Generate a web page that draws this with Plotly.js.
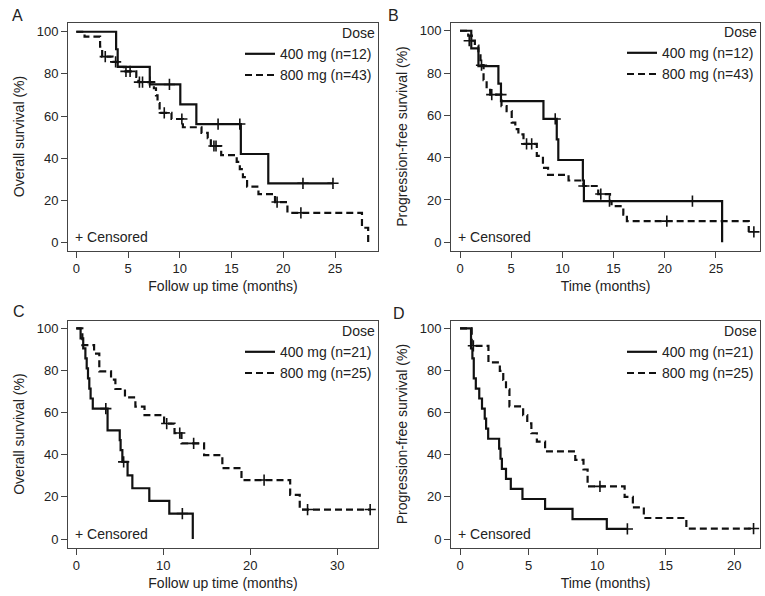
<!DOCTYPE html>
<html>
<head>
<meta charset="utf-8">
<script src="https://cdn.plot.ly/plotly-3.0.1.min.js"></script>
<style>
  body { margin: 0; background: #fff; }
  #chart { width: 765px; height: 596px; }
</style>
</head>
<body>
<div id="chart"></div>
<script>
// Panel A: overall survival, cohort 1 (months, %)
var a400_t = [0, 3.85, 4.0, 7.1, 10.05, 11.6, 15.9, 18.55, 24.8];
var a400_s = [100, 91.7, 83.3, 75.0, 65.5, 56.2, 42.0, 28.1, 28.1];
var a400_ct = [9.0, 13.7, 15.8, 21.9, 24.8];
var a400_cs = [75.0, 56.2, 56.2, 28.1, 28.1];
var a800_t = [0, 0.8, 2.3, 2.5, 3.5, 4.0, 4.6, 5.8, 6.0, 7.5, 7.7, 7.85, 8.05, 9.2, 10.3, 12.1, 12.7, 13.0, 14.0, 15.5, 15.8, 16.1, 16.5, 17.6, 19.2, 20.4, 27.6, 28.2];
var a800_s = [100, 97.7, 92.9, 88.2, 85.7, 83.3, 81.2, 78.6, 76.1, 73.2, 69.8, 66.2, 61.5, 58.6, 54.7, 52.0, 49.5, 45.8, 41.5, 38.3, 34.8, 31.0, 26.5, 23.0, 19.2, 14.1, 7.0, 0];
var a800_ct = [2.8, 3.8, 4.8, 5.2, 6.1, 6.4, 7.1, 8.5, 10.2, 13.3, 13.5, 19.4, 21.7];
var a800_cs = [88.2, 85.7, 81.2, 81.2, 76.1, 76.1, 76.1, 61.5, 58.6, 45.8, 45.8, 19.2, 14.1];

// Panel B: progression-free survival, cohort 1
var b400_t = [0, 1.1, 1.8, 3.75, 4.0, 8.15, 9.45, 9.6, 12.0, 12.1, 25.6];
var b400_s = [100, 91.7, 83.3, 75.0, 66.7, 58.3, 48.6, 38.9, 29.2, 19.4, 0];
var b400_ct = [9.3, 22.7];
var b400_cs = [58.3, 19.4];
var b800_t = [0, 0.8, 1.15, 1.45, 1.8, 2.0, 2.3, 2.6, 2.95, 4.05, 4.55, 5.05, 5.4, 5.7, 6.2, 7.5, 8.1, 8.6, 10.6, 12.05, 13.5, 14.65, 14.8, 15.95, 16.3, 28.2];
var b800_s = [100, 97.7, 95.3, 93.0, 88.4, 83.7, 76.7, 72.1, 69.8, 64.4, 62.0, 56.6, 53.5, 51.0, 46.5, 40.8, 35.2, 31.9, 29.2, 26.6, 22.8, 19.4, 17.1, 13.1, 10.0, 4.9];
var b800_ct = [0.9, 2.1, 3.1, 4.0, 6.5, 7.0, 12.1, 13.75, 14.6, 20.2, 28.7];
var b800_cs = [95.3, 83.7, 69.8, 69.8, 46.5, 46.5, 26.6, 22.8, 19.4, 10.0, 4.9];

// Panel C: overall survival, cohort 2
var c400_t = [0, 0.5, 0.8, 1.05, 1.2, 1.35, 1.5, 1.65, 1.9, 3.6, 5.0, 5.1, 5.3, 5.9, 6.45, 8.4, 10.7, 13.4];
var c400_s = [100, 95.2, 90.5, 85.7, 81.0, 76.2, 71.4, 66.7, 61.9, 51.6, 46.9, 42.2, 36.6, 30.2, 24.1, 18.1, 12.1, 0];
var c400_ct = [3.4, 5.45, 12.2];
var c400_cs = [61.9, 36.6, 12.1];
var c800_t = [0, 0.7, 2.05, 2.65, 4.0, 4.5, 5.6, 6.8, 7.85, 10.1, 11.3, 12.1, 14.7, 16.8, 19.0, 24.6, 25.7, 33.8];
var c800_s = [100, 92.0, 88.0, 79.6, 75.6, 71.2, 67.2, 62.8, 58.8, 54.8, 50.3, 45.4, 39.8, 33.7, 28.0, 21.0, 14.0, 14.0];
var c800_ct = [10.4, 11.9, 13.5, 21.6, 26.6, 33.8];
var c800_cs = [54.8, 50.3, 45.4, 28.0, 14.0, 14.0];

// Panel D: progression-free survival, cohort 2
var d400_t = [0, 0.8, 0.9, 1.0, 1.15, 1.4, 1.6, 1.8, 1.9, 2.05, 2.85, 2.95, 3.05, 3.35, 3.7, 4.55, 6.2, 8.2, 10.7, 12.2];
var d400_s = [100, 90.5, 85.7, 76.2, 71.4, 66.7, 61.9, 57.1, 52.4, 47.6, 42.9, 38.1, 33.3, 28.6, 23.8, 19.0, 14.3, 9.5, 4.8, 4.8];
var d400_ct = [12.2];
var d400_cs = [4.8];
var d800_t = [0, 0.85, 2.07, 2.9, 3.15, 3.35, 3.6, 4.6, 4.9, 5.2, 5.6, 6.2, 8.4, 9.0, 9.3, 12.0, 12.6, 13.4, 16.5, 21.4];
var d800_s = [100, 91.7, 83.8, 79.8, 75.5, 71.0, 63.0, 58.8, 54.9, 50.2, 46.2, 41.6, 37.6, 33.0, 25.0, 20.0, 15.0, 10.0, 5.0, 5.0];
var d800_ct = [0.97, 10.2, 21.4];
var d800_cs = [91.7, 25.0, 5.0];

var FONT = "Liberation Sans, Arial, sans-serif";
var INK = "#222";

// one step curve plus its censor marks
function kmCurve(xa, ya, leg, name, dash, t, s, ct, cs) {
    var line = {
        x: t, y: s, xaxis: xa, yaxis: ya, legend: leg,
        name: name, type: "scatter", mode: "lines",
        line: { shape: "hv", color: "#111", width: 2.2, dash: dash },
        hoverinfo: "skip"
    };
    var marks = {
        x: ct, y: cs, xaxis: xa, yaxis: ya,
        type: "scatter", mode: "markers", showlegend: false,
        marker: { symbol: "cross-thin", size: 8, line: { width: 1.6, color: "#111" } },
        hoverinfo: "skip"
    };
    return [line, marks];
}

var data = [].concat(
    kmCurve("x", "y", "legend", "400 mg (n=12)", "solid", a400_t, a400_s, a400_ct, a400_cs),
    kmCurve("x", "y", "legend", "800 mg (n=43)", "7px,4px", a800_t, a800_s, a800_ct, a800_cs),
    kmCurve("x2", "y2", "legend2", "400 mg (n=12)", "solid", b400_t, b400_s, b400_ct, b400_cs),
    kmCurve("x2", "y2", "legend2", "800 mg (n=43)", "7px,4px", b800_t, b800_s, b800_ct, b800_cs),
    kmCurve("x3", "y3", "legend3", "400 mg (n=21)", "solid", c400_t, c400_s, c400_ct, c400_cs),
    kmCurve("x3", "y3", "legend3", "800 mg (n=25)", "7px,4px", c800_t, c800_s, c800_ct, c800_cs),
    kmCurve("x4", "y4", "legend4", "400 mg (n=21)", "solid", d400_t, d400_s, d400_ct, d400_cs),
    kmCurve("x4", "y4", "legend4", "800 mg (n=25)", "7px,4px", d800_t, d800_s, d800_ct, d800_cs)
);

function xAxis(domain, range, dtick, title, anchor) {
    return {
        domain: domain, range: range, dtick: dtick, tick0: 0, anchor: anchor,
        showline: true, mirror: true, linecolor: "#444", linewidth: 1,
        ticks: "outside", ticklen: 6, tickcolor: "#444",
        showgrid: false, zeroline: false,
        tickfont: { size: 13, color: INK },
        title: { text: title, font: { size: 14, color: INK }, standoff: 6 }
    };
}

function yAxis(domain, range, title, anchor) {
    return {
        domain: domain, range: range, dtick: 20, tick0: 0, anchor: anchor,
        showline: true, mirror: true, linecolor: "#444", linewidth: 1,
        ticks: "outside", ticklen: 6, tickcolor: "#444",
        showgrid: false, zeroline: false,
        tickfont: { size: 13, color: INK },
        title: { text: title, font: { size: 14, color: INK }, standoff: 8 }
    };
}

function doseLegend(x, y) {
    return {
        x: x, y: y, xanchor: "right", yanchor: "top",
        bgcolor: "rgba(0,0,0,0)", borderwidth: 0,
        font: { size: 14, color: INK, family: FONT },
        title: { text: "Dose", side: "top right", font: { size: 14, color: INK } },
        tracegroupgap: 0
    };
}

function censNote(xref, yref) {
    return {
        text: "+ Censored", xref: xref + " domain", yref: yref + " domain",
        x: 0.015, y: 0.015, xanchor: "left", yanchor: "bottom",
        showarrow: false, font: { size: 14, color: INK }
    };
}

function panelTag(txt, px, py) {
    return {
        text: txt, xref: "paper", yref: "paper",
        x: px / 765, y: 1 - py / 596, xanchor: "left", yanchor: "middle",
        showarrow: false, font: { size: 16, color: INK }
    };
}

var topRow = [1 - 250.5 / 596, 1 - 22.5 / 596];
var botRow = [1 - 547.5 / 596, 1 - 320.7 / 596];
var leftCol = [68 / 765, 378 / 765];
var rightCol = [451 / 765, 760 / 765];

var layout = {
    width: 765,
    height: 596,
    margin: { t: 0, b: 0, l: 0, r: 0 },
    paper_bgcolor: "#fff",
    plot_bgcolor: "#fff",
    font: { family: FONT, color: INK },
    showlegend: true,

    xaxis: xAxis(leftCol, [-0.8, 29.15], 5, "Follow up time (months)", "y"),
    yaxis: yAxis(topRow, [-3.8, 104.4], "Overall survival (%)", "x"),
    xaxis2: xAxis(rightCol, [-0.88, 29.3], 5, "Time (months)", "y2"),
    yaxis2: yAxis(topRow, [-3.9, 103.9], "Progression-free survival (%)", "x2"),
    xaxis3: xAxis(leftCol, [-0.95, 34.7], 10, "Follow up time (months)", "y3"),
    yaxis3: yAxis(botRow, [-4.0, 103.6], "Overall survival (%)", "x3"),
    xaxis4: xAxis(rightCol, [-0.66, 21.87], 5, "Time (months)", "y4"),
    yaxis4: yAxis(botRow, [-4.0, 103.6], "Progression-free survival (%)", "x4"),

    legend: doseLegend(377 / 765, 1 - 20 / 596),
    legend2: doseLegend(759 / 765, 1 - 19 / 596),
    legend3: doseLegend(377 / 765, 1 - 318 / 596),
    legend4: doseLegend(759 / 765, 1 - 318 / 596),

    annotations: [
        censNote("x", "y"), censNote("x2", "y2"), censNote("x3", "y3"), censNote("x4", "y4"),
        panelTag("A", 10, 15), panelTag("B", 386, 15), panelTag("C", 11, 311), panelTag("D", 391, 313)
    ]
};

Plotly.newPlot("chart", data, layout, { displayModeBar: false, staticPlot: true });
</script>
</body>
</html>
